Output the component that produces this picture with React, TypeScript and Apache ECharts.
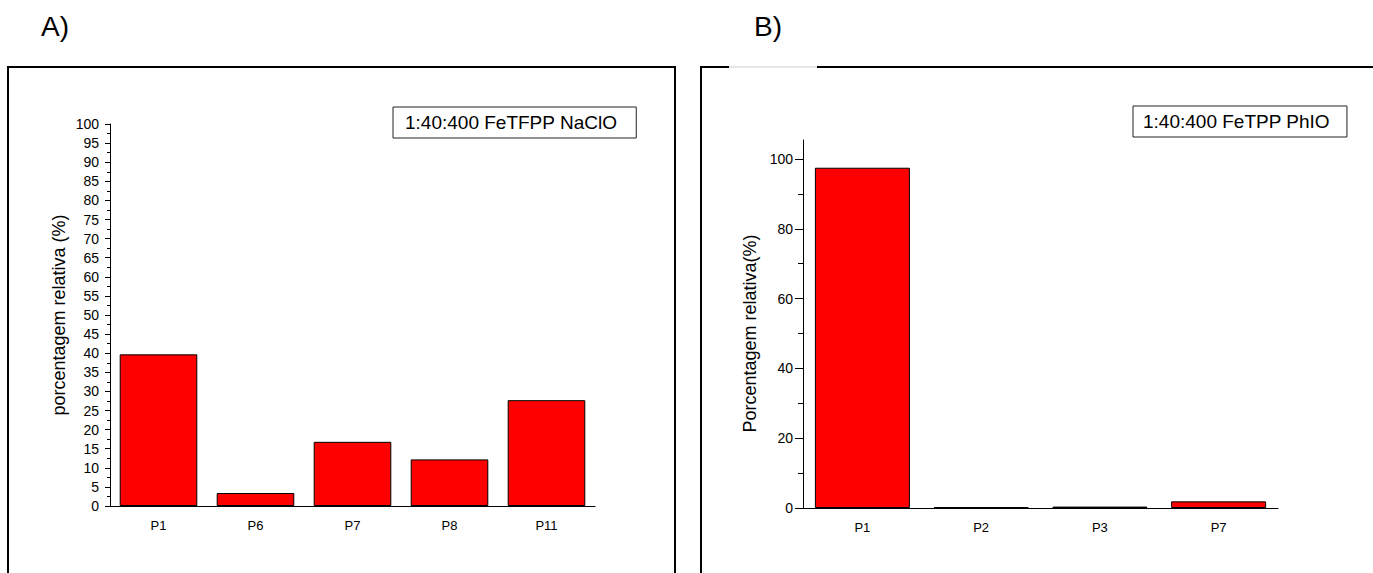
import React, { useEffect, useRef } from "react";
import * as echarts from "echarts";

const catsA = ["P1", "P6", "P7", "P8", "P11"];
const valsA = [39.7, 3.4, 16.8, 12.2, 27.7];
const catsB = ["P1", "P2", "P3", "P7"];
const valsB = [97.5, 0.2, 0.4, 1.9];
const seriesNameA = "1:40:400 FeTFPP NaClO";
const seriesNameB = "1:40:400 FeTPP PhIO";
const yNameA = "porcentagem relativa (%)";
const yNameB = "Porcentagem relativa(%)";
const panelA = "A)";
const panelB = "B)";

const FONT = "'Liberation Sans', Arial, Helvetica, sans-serif";
const BLACK = "#000";
const RED = "#ff0000";

export default function App() {
  const ref = useRef<HTMLDivElement>(null);
  useEffect(() => {
    if (!ref.current) return;
    const chart = echarts.init(ref.current, undefined, { renderer: "svg" });
    const line = { lineStyle: { color: BLACK, width: 1 } };
    const option: any = {
      animation: false,
      backgroundColor: "#fff",
      textStyle: { fontFamily: FONT },
      grid: [
        { left: 110, top: 124, width: 485, height: 382 },
        { left: 803, top: 159, width: 475, height: 349 },
        { left: 803, top: 140, width: 475, height: 368 },
      ],
      xAxis: [
        {
          gridIndex: 0, type: "category", data: catsA, position: "bottom",
          axisLine: line,
          axisTick: { alignWithLabel: true, length: 7, ...line },
          axisLabel: { color: BLACK, fontSize: 13, margin: 13, fontFamily: FONT },
        },
        {
          gridIndex: 0, type: "category", data: catsA, position: "bottom",
          axisLine: { show: false },
          axisTick: { length: 4, ...line },
          axisLabel: { show: false },
        },
        {
          gridIndex: 1, type: "category", data: catsB, position: "bottom",
          axisLine: line,
          axisTick: { alignWithLabel: true, length: 9, ...line },
          axisLabel: { color: BLACK, fontSize: 13, margin: 13, fontFamily: FONT },
        },
        {
          gridIndex: 1, type: "category", data: catsB, position: "bottom",
          axisLine: { show: false },
          axisTick: { length: 4, ...line },
          axisLabel: { show: false },
        },
        { gridIndex: 2, type: "category", data: catsB, show: false },
      ],
      yAxis: [
        {
          gridIndex: 0, type: "value", min: 0, max: 100, interval: 5,
          name: yNameA, nameLocation: "middle", nameGap: 42,
          nameTextStyle: { color: BLACK, fontSize: 18, fontFamily: FONT },
          axisLine: { show: true, ...line },
          axisTick: { show: true, length: 5, ...line },
          minorTick: { show: true, splitNumber: 2, length: 3, ...line },
          splitLine: { show: false },
          axisLabel: { color: BLACK, fontSize: 14, margin: 11, fontFamily: FONT },
        },
        {
          gridIndex: 1, type: "value", min: 0, max: 100, interval: 20,
          name: yNameB, nameLocation: "middle", nameGap: 44,
          nameTextStyle: { color: BLACK, fontSize: 18, fontFamily: FONT },
          axisLine: { show: true, ...line },
          axisTick: { show: true, length: 8, ...line },
          minorTick: { show: true, splitNumber: 2, length: 5, ...line },
          splitLine: { show: false },
          axisLabel: { color: BLACK, fontSize: 14, margin: 10, fontFamily: FONT },
        },
        {
          gridIndex: 2, type: "value", min: 0, max: 105,
          axisLine: { show: true, ...line },
          axisTick: { show: false },
          axisLabel: { show: false },
          splitLine: { show: false },
        },
      ],
      legend: [
        {
          data: [{ name: seriesNameA, icon: "none" }],
          left: 393, top: 107,
          itemWidth: 0, itemHeight: 14,
          padding: [6, 19, 6, 7],
          borderColor: "#222", borderWidth: 1,
          selectedMode: false,
          textStyle: { color: BLACK, fontSize: 19, fontFamily: FONT },
        },
        {
          data: [{ name: seriesNameB, icon: "none" }],
          left: 1133, top: 106,
          itemWidth: 0, itemHeight: 14,
          padding: [6, 17, 6, 5],
          borderColor: "#222", borderWidth: 1,
          selectedMode: false,
          textStyle: { color: BLACK, fontSize: 19, fontFamily: FONT },
        },
      ],
      series: [
        {
          name: seriesNameA, type: "bar", xAxisIndex: 0, yAxisIndex: 0,
          data: valsA, barCategoryGap: "20%",
          itemStyle: { color: RED, borderColor: BLACK, borderWidth: 1 },
        },
        {
          name: seriesNameB, type: "bar", xAxisIndex: 2, yAxisIndex: 1,
          data: valsB, barCategoryGap: "20%",
          itemStyle: { color: RED, borderColor: BLACK, borderWidth: 1 },
        },
      ],
      graphic: [
        { type: "text", left: 41, top: 12, style: { text: panelA, fontSize: 28, fill: BLACK, fontFamily: FONT } },
        { type: "text", left: 754, top: 12, style: { text: panelB, fontSize: 28, fill: BLACK, fontFamily: FONT } },
        { type: "rect", shape: { x: 8, y: 67, width: 667, height: 600 }, style: { fill: "none", stroke: BLACK, lineWidth: 2 } },
        { type: "line", shape: { x1: 701, y1: 66, x2: 701, y2: 600 }, style: { stroke: BLACK, lineWidth: 2 } },
        { type: "line", shape: { x1: 700, y1: 67, x2: 729, y2: 67 }, style: { stroke: BLACK, lineWidth: 2 } },
        { type: "line", shape: { x1: 729, y1: 67, x2: 817, y2: 67 }, style: { stroke: "#ccc", lineWidth: 1 } },
        { type: "line", shape: { x1: 817, y1: 67, x2: 1380, y2: 67 }, style: { stroke: BLACK, lineWidth: 2 } },
      ],
    };
    chart.setOption(option);
    return () => chart.dispose();
  }, []);
  return (
    <div
      ref={ref}
      style={{ position: "absolute", left: 0, top: 0, width: 1373, height: 573 }}
    />
  );
}
